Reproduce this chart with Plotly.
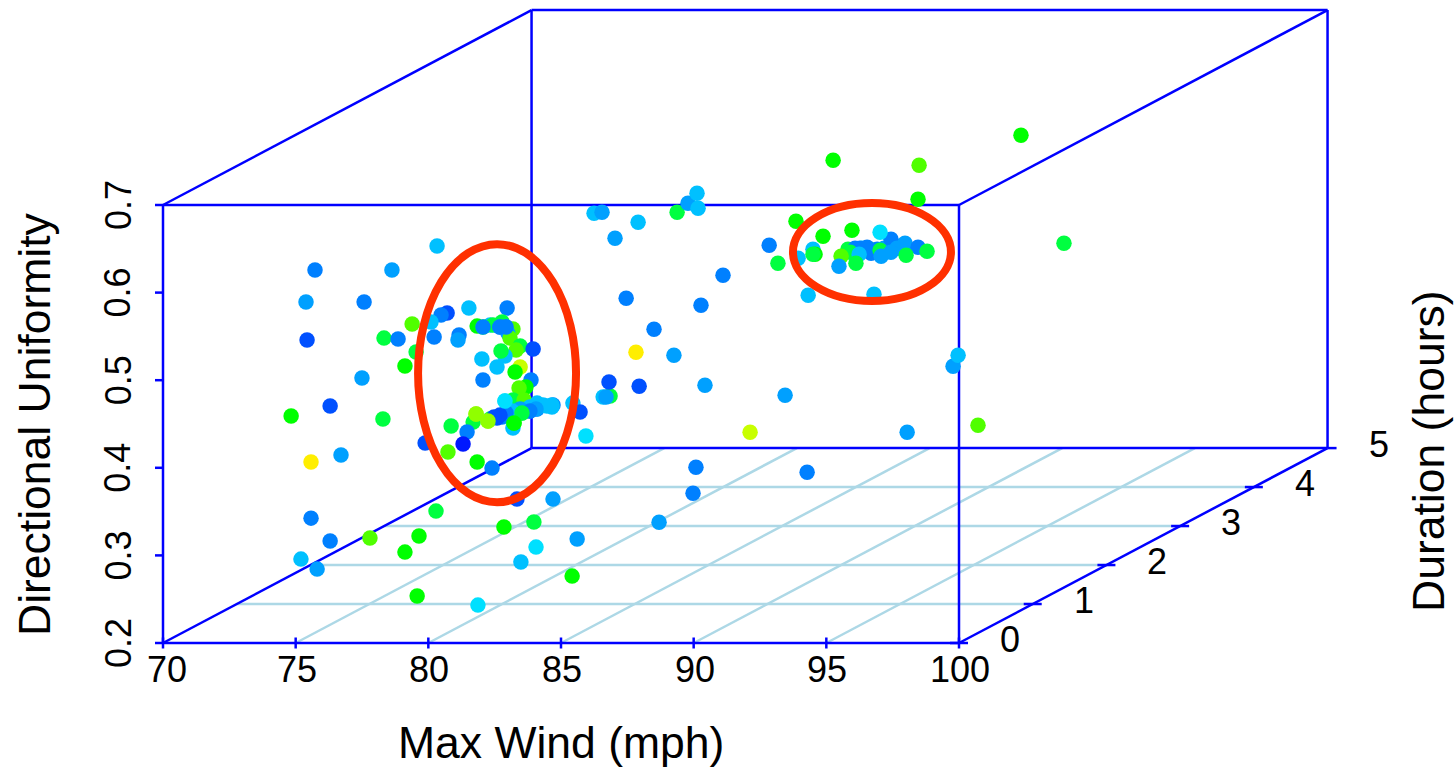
import plotly.graph_objects as go

# ---------- chart values ----------
wind_ticks = [70, 75, 80, 85, 90, 95, 100]
duration_ticks = [0, 1, 2, 3, 4, 5]
uniformity_ticks = [0.2, 0.3, 0.4, 0.5, 0.6, 0.7]

x_title = "Max Wind (mph)"
y_title = "Directional Uniformity"
z_title = "Duration (hours)"

palette = {"X": "#0018ff", "D": "#0050ff", "B": "#0080ff", "M": "#00a0ff", "L": "#00c0ff",
           "C": "#00e0ff", "G": "#00ff40", "H": "#00ff00", "K": "#50ff00", "N": "#90ff00",
           "P": "#c8ff00", "Y": "#ffee00"}

# Storms of short duration (left group)
wind_a = [74.34, 77.24, 78.94, 74.00, 76.19, 74.04, 76.94, 77.47, 78.00, 79.32, 79.09, 78.71, 80.14, 81.58,
          78.83, 79.77, 79.73, 78.15, 77.73, 76.11, 74.91, 73.44, 76.90, 75.32, 74.19,
          80.45, 80.94, 80.67, 81.05, 81.39, 81.31, 81.54, 81.80, 81.61, 81.69, 82.07, 81.92, 82.56,
          81.50, 81.35, 80.63, 81.20, 82.07, 81.88, 80.67, 82.48, 82.29, 82.03,
          81.50, 81.80, 82.22, 82.71, 82.93, 83.31, 83.27, 84.06, 84.33, 82.44, 82.71, 82.14, 81.77,
          81.58, 81.39, 81.20, 80.94, 80.30, 80.41, 80.86, 81.80, 81.84, 80.07, 79.47, 78.49, 79.92,
          79.35, 80.45, 81.01, 84.55, 85.20, 85.46, 85.31, 85.42,
          81.95, 83.31, 78.90, 74.19, 81.46, 82.59, 78.26, 76.41, 74.91, 84.22, 82.67, 77.73, 73.81,
          74.42, 82.10, 84.03, 78.19, 80.48,
          82.82, 83.08, 83.27, 82.44, 82.07, 81.77, 81.54, 81.31, 81.09, 82.67, 82.44, 82.14, 81.50,
          80.41, 80.86, 81.84, 80.67, 81.31, 81.54]
unif_a = [.6035, .6035, .6309, .5669, .5669, .5236, .5258, .5247, .5418, .5544, .5521, .5441, .5601, .5601,
          .5270, .5293, .5236, .5099, .4939, .4802, .4482, .4368, .4334, .3923, .3843,
          .5395, .5407, .5384, .5407, .5441, .5384, .5384, .5361, .5315, .5258, .5167, .5121, .5133,
          .5053, .5110, .5019, .4927, .4927, .4870, .4779, .4779, .4699, .4688,
          .4539, .4551, .4551, .4516, .4494, .4494, .4471, .4516, .4414, .4425, .4448, .4402, .4402,
          .4379, .4357, .4345, .4334, .4299, .4391, .4311, .4231, .4288, .4185, .4254, .4060, .4048,
          .3957, .3843, .3774, .4140, .4585, .4596, .4585, .4756,
          .3420, .3420, .3283, .3203, .3101, .3158, .2998, .2975, .2941, .2964, .2872, .2815, .2735,
          .2621, .2701, .2541, .2313, .2210,
          .4482, .4482, .4494, .4471, .4448, .4425, .4402, .4379, .4357, .4448, .4425, .4402, .4539,
          .4391, .4311, .4288, .5384, .5384, .5384]
col_a = list("BMLMBDGBKDBLLB"
             "BBMGHMDHGMY"
             "HLGGGBBKMKGKD"
             "LGLLPHBBHK"
             "CGKLLBLLDBBGL"
             "MBDGGNNLHBGDX"
             "KHBCLGMD"
             "DMGBHGHKBMCHL"
             "MLHHC"
             "LLLLMLBDDMBGC"
             "NNHBBB")
dur_a = [0.5] * len(wind_a)

# Storms of longer duration (right group)
wind_b = [80.69, 80.99, 82.35, 81.48, 83.82, 84.23, 84.57, 84.61, 85.55, 81.90, 84.72, 82.95, 83.70, 82.27,
          82.39, 84.87, 87.89, 92.49, 86.57, 95.16, 94.22, 94.41, 88.72, 84.53, 84.42, 83.14,
          92.90, 88.30, 89.32, 90.41, 87.29, 88.38, 88.94, 87.62, 89.02, 88.94, 88.76, 91.24, 96.78,
          89.70, 92.94, 98.40,
          90.26, 90.53, 90.79, 91.09, 91.36, 91.62, 91.92, 92.22, 92.41,
          90.71, 90.98, 91.13, 91.88, 92.11, 92.41, 92.90, 90.34, 90.00, 91.47, 91.88, 91.51,
          90.68, 89.92, 90.56, 92.45, 93.24, 91.47]
unif_b = [.6015, .6027, .5913, .5730, .6027, .6130, .6244, .6072, .5308, .5045, .4965, .4691, .4394, .4429,
          .4040, .4052, .3938, .3515, .3515, .3595, .4269, .4394, .3059, .3116, .2819, .2488,
          .6175, .5924, .5753, .5821, .5650, .5502, .5604, .5445, .5547, .5547, .5079, .5091, .6906,
          .6620, .6563, .5673,
          .5604, .5616, .5616, .5604, .5604, .5616, .5627, .5639, .5627,
          .5616, .5627, .5559, .5719, .5616, .5673, .5627, .5570, .5524, .5593, .5570, .5524,
          .5547, .5410, .5445, .5536, .5582, .5798]
col_b = list("LMLMGMLLBBBBMY"
             "DMMMPKMLBBBM"
             "HHHHBLLGHGLL"
             "HHKG"
             "GBLGBMMMM"
             "BBBBMMBGKGMM"
             "LMGGGC")
dur_b = [2.0] * len(wind_b)

wind = wind_a + wind_b
duration = dur_a + dur_b
uniformity = unif_a + unif_b
colour_code = col_a + col_b

# ---------- oblique projection of the 3-D box onto the page ----------
W, H = 1454, 768
PX_PER_MPH = 796 / 30
PX_PER_UNIF = 438 / 0.5
MPH_PER_HOUR = 2.778
UNIF_PER_HOUR = 0.0445
x_range = [70 - 163 / PX_PER_MPH, 70 + (W - 163) / PX_PER_MPH]
y_range = [0.2 - (H - 643) / PX_PER_UNIF, 0.2 + 643 / PX_PER_UNIF]


def px(w, d):
    return w + d * MPH_PER_HOUR


def py(u, d):
    return u + d * UNIF_PER_HOUR


def segments(segs):
    xs, ys = [], []
    for (w0, d0, u0), (w1, d1, u1) in segs:
        xs += [px(w0, d0), px(w1, d1), None]
        ys += [py(u0, d0), py(u1, d1), None]
    return xs, ys


w0, w1 = wind_ticks[0], wind_ticks[-1]
d0, d1 = duration_ticks[0], duration_ticks[-1]
u0, u1 = uniformity_ticks[0], uniformity_ticks[-1]

fig = go.Figure()

# floor grid
grid = [((w, d0, u0), (w, d1, u0)) for w in wind_ticks[1:-1]]
grid += [((w0, d, u0), (w1, d, u0)) for d in duration_ticks[1:-1]]
gx, gy = segments(grid)
fig.add_trace(go.Scatter(x=gx, y=gy, mode="lines", line=dict(color="#add8e6", width=2.5), hoverinfo="skip"))

# box
box = [((w0, d0, u0), (w1, d0, u0)), ((w0, d0, u1), (w1, d0, u1)),
       ((w0, d0, u0), (w0, d0, u1)), ((w1, d0, u0), (w1, d0, u1)),
       ((w0, d1, u0), (w1, d1, u0)), ((w0, d1, u1), (w1, d1, u1)),
       ((w0, d1, u0), (w0, d1, u1)), ((w1, d1, u0), (w1, d1, u1)),
       ((w0, d0, u0), (w0, d1, u0)), ((w1, d0, u0), (w1, d1, u0)),
       ((w0, d0, u1), (w0, d1, u1)), ((w1, d0, u1), (w1, d1, u1))]
bx, by = segments(box)
fig.add_trace(go.Scatter(x=bx, y=by, mode="lines", line=dict(color="#0000ff", width=2.5), hoverinfo="skip"))

# tick marks
t_w, t_d, t_u = 5.5 / PX_PER_UNIF, 9 / PX_PER_MPH, 8 / PX_PER_MPH
ticks = [((w, d0, u0 - t_w), (w, d0, u0 + t_w)) for w in wind_ticks]
ticks += [((w1 - t_d, d, u0), (w1 + t_d, d, u0)) for d in duration_ticks[:-1]]
ticks += [((w1, d1, u0), (w1 + t_d, d1, u0))]
ticks += [((w0 - t_u, d0, u), (w0, d0, u)) for u in uniformity_ticks]
tx, ty = segments(ticks)
fig.add_trace(go.Scatter(x=tx, y=ty, mode="lines", line=dict(color="#0000ff", width=2.5), hoverinfo="skip"))

# storms
fig.add_trace(go.Scatter(
    x=[px(w, d) for w, d in zip(wind, duration)],
    y=[py(u, d) for u, d in zip(uniformity, duration)],
    mode="markers",
    marker=dict(size=15.5, color=[palette[c] for c in colour_code], line=dict(width=0)),
    hoverinfo="skip"))

FONT = "Liberation Sans"
tick_font = dict(family=FONT, size=36, color="black")
title_font = dict(family=FONT, size=44.5, color="black")
ann = []
for w in wind_ticks:
    ann.append(dict(x=px(w, d0), y=py(u0, d0), text=str(w), xref="x", yref="y", showarrow=False,
                    xanchor="center", yanchor="middle", yshift=-26, xshift=4 if w == 70 else 1, font=tick_font))
for d in duration_ticks:
    ann.append(dict(x=px(w1, d), y=py(u0, d), text=str(d), xref="x", yref="y", showarrow=False,
                    xanchor="center", yanchor="middle", xshift=51, yshift=4, font=tick_font))
for u in uniformity_ticks:
    ann.append(dict(x=px(w0, d0), y=py(u, d0), text=f"{u:.1f}", xref="x", yref="y", showarrow=False,
                    xanchor="center", yanchor="middle", xshift=-45, textangle=-90, font=tick_font))
ann.append(dict(x=561 / W, y=1 - 742 / H, text=x_title, xref="paper", yref="paper", showarrow=False,
                xanchor="center", yanchor="middle", font=title_font))
ann.append(dict(x=34 / W, y=1 - 424 / H, text=y_title, xref="paper", yref="paper", showarrow=False,
                xanchor="center", yanchor="middle", textangle=-90, font=title_font))
ann.append(dict(x=1428 / W, y=1 - 451 / H, text=z_title, xref="paper", yref="paper", showarrow=False,
                xanchor="center", yanchor="middle", textangle=-90, font=title_font))

# red ovals: centre wind, half-width, centre uniformity, half-height
oval_wind = [82.59, 96.72]
oval_half_wind = [2.977, 2.977]
oval_unif = [0.508, 0.6463]
oval_half_unif = [0.1473, 0.0559]
shapes = [dict(type="circle", xref="x", yref="y", layer="above",
               x0=c - a, x1=c + a, y0=v - b, y1=v + b,
               line=dict(color="#ff3000", width=8))
          for c, a, v, b in zip(oval_wind, oval_half_wind, oval_unif, oval_half_unif)]

fig.update_layout(
    width=W, height=H, margin=dict(l=0, r=0, t=0, b=0), showlegend=False,
    paper_bgcolor="white", plot_bgcolor="white",
    xaxis=dict(range=x_range, visible=False, fixedrange=True),
    yaxis=dict(range=y_range, visible=False, fixedrange=True),
    annotations=ann, shapes=shapes)

fig.write_html("out.html", config={"displayModeBar": False},
               post_script="document.body.style.margin='0';document.body.style.overflow='hidden';")
